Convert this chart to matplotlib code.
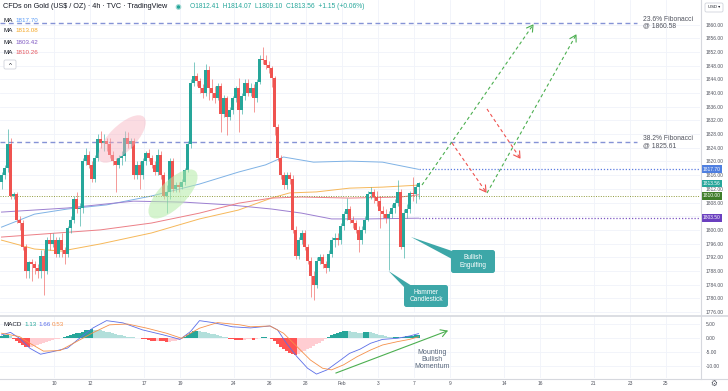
import numpy as np
import matplotlib
matplotlib.use("Agg")
import matplotlib.pyplot as plt
import matplotlib.transforms as mtransforms
from matplotlib.patches import Ellipse, FancyBboxPatch, Polygon, Circle

plt.rcParams['font.family'] = ['Liberation Sans', 'DejaVu Sans']

# ---------------- data ----------------
opens = [1814, 1816, 1818, 1825, 1810, 1810.5, 1803, 1802, 1795, 1788,
         1790.5, 1790, 1789, 1788, 1792.5, 1788, 1797, 1796, 1797, 1793,
         1797, 1794, 1793, 1800.5, 1803, 1809, 1806, 1806.5, 1820, 1822,
         1819, 1815, 1821, 1826.5, 1825.5, 1826, 1825, 1822, 1820, 1819,
         1821, 1821.5, 1827, 1825, 1826, 1816, 1819, 1816, 1820, 1822.5,
         1821, 1819, 1817, 1822, 1816, 1810, 1811, 1820, 1812, 1813,
         1812.5, 1814, 1817.5, 1825, 1843, 1845, 1843.5, 1841.5, 1840, 1846.7,
         1841.5, 1840, 1838.5, 1842, 1834, 1838.5, 1833, 1835, 1838.5, 1841.5,
         1835, 1839, 1843, 1840, 1841.5, 1838.5, 1843.3, 1850, 1849.7, 1848.2,
         1847.2, 1844.3, 1830.2, 1821, 1816, 1813, 1816, 1815, 1800, 1792.5,
         1797, 1799, 1795, 1791, 1786.5, 1784, 1791, 1792, 1790, 1789,
         1793, 1797, 1797.5, 1797, 1801, 1804.5, 1806, 1803, 1802, 1800,
         1797, 1800, 1803, 1810.5, 1811, 1809.5, 1808.5, 1805.5, 1804.5, 1803.5,
         1804.5, 1806.5, 1808, 1811, 1795, 1805, 1806, 1810.8, 1810.5, 1812.41]
highs = [1817, 1819, 1829.5, 1827, 1811, 1811, 1804, 1803, 1796, 1791,
         1791.5, 1791, 1790, 1794, 1794, 1798, 1799, 1799, 1798, 1798,
         1799, 1795, 1801, 1804, 1810, 1811, 1808, 1821, 1824, 1823,
         1820, 1822, 1828, 1829, 1828, 1827, 1827, 1823, 1821, 1822,
         1823, 1829, 1828.5, 1827, 1827, 1820, 1820, 1821, 1823, 1823.5,
         1822, 1820, 1823.5, 1823, 1817, 1813, 1821, 1821, 1814, 1814,
         1815, 1818, 1826, 1844, 1849, 1846, 1844.5, 1842.5, 1848.5, 1848,
         1844, 1842, 1843, 1843, 1839.5, 1839, 1836, 1839, 1842, 1844.5,
         1840, 1844, 1844, 1843, 1842.5, 1844, 1851, 1853.5, 1851.1, 1849.5,
         1848, 1845, 1831, 1822, 1817, 1817, 1817, 1816, 1801, 1798,
         1800, 1800, 1796, 1792, 1788, 1792, 1793, 1793, 1791, 1794,
         1798, 1799, 1799, 1802, 1805.5, 1809.3, 1807, 1804, 1803, 1801,
         1801, 1804, 1811.5, 1812.5, 1812, 1811.5, 1810, 1807, 1806, 1805.5,
         1807.5, 1809, 1814.5, 1812, 1806, 1807.5, 1811.5, 1815.5, 1813.5, 1814.07]
lows = [1812, 1815, 1817, 1809, 1809, 1802, 1800, 1794, 1786, 1786,
        1785, 1787, 1786, 1786, 1781, 1787, 1794, 1795, 1792, 1792,
        1792, 1790, 1792, 1799, 1802, 1805, 1801, 1805, 1819, 1818,
        1814, 1814, 1820, 1824, 1823, 1823, 1821, 1819, 1811, 1818,
        1819, 1820, 1824, 1824, 1815, 1815, 1812, 1815, 1819, 1820,
        1818, 1816, 1816, 1815, 1809, 1805, 1809, 1811, 1811, 1811,
        1812, 1813, 1817, 1824, 1842, 1842, 1840, 1838.5, 1839, 1838,
        1838, 1837, 1838, 1828.6, 1833, 1827.7, 1832, 1834, 1837.5, 1828.6,
        1834, 1838, 1839, 1839, 1834.5, 1837.5, 1842.5, 1848.5, 1847, 1846,
        1841.8, 1827.7, 1820, 1815, 1812, 1812, 1813.5, 1799, 1791.5, 1791.5,
        1796, 1794, 1790, 1780.4, 1779.5, 1783, 1790, 1789, 1787.5, 1788,
        1792, 1795, 1795.5, 1796, 1800, 1803, 1802, 1800.5, 1799, 1793.5,
        1796, 1799, 1802.5, 1809, 1808, 1807, 1800.5, 1803.5, 1802, 1788.2,
        1803.5, 1805, 1807, 1794.5, 1791.8, 1803.5, 1805, 1808.5, 1808, 1809.10]
closes = [1816, 1818, 1825, 1810, 1810.5, 1803, 1802, 1795, 1788, 1790.5,
          1790, 1789, 1788, 1792.5, 1788, 1797, 1796, 1797, 1793, 1797,
          1794, 1793, 1800.5, 1803, 1809, 1806, 1806.5, 1820, 1822, 1819,
          1815, 1821, 1826.5, 1825.5, 1826, 1825, 1822, 1820, 1819, 1821,
          1821.5, 1827, 1825, 1826, 1816, 1819, 1816, 1820, 1822.5, 1821,
          1819, 1817, 1822, 1816, 1810, 1811, 1820, 1812, 1813, 1812.5,
          1814, 1817.5, 1825, 1843, 1845, 1843.5, 1841.5, 1840, 1846.7, 1841.5,
          1840, 1838.5, 1842, 1834, 1838.5, 1833, 1835, 1838.5, 1841.5, 1835,
          1839, 1843, 1840, 1841.5, 1838.5, 1843.3, 1850, 1849.7, 1848.2, 1847.2,
          1844.3, 1830.2, 1821, 1816, 1813, 1816, 1815, 1800, 1792.5, 1797,
          1799, 1795, 1791, 1786.5, 1784, 1791, 1792, 1790, 1789, 1793,
          1797, 1797.5, 1797, 1801, 1804.5, 1806, 1803, 1802, 1800, 1797,
          1800, 1803, 1810.5, 1811, 1809.5, 1808.5, 1805.5, 1804.5, 1803.5, 1804.5,
          1806.5, 1808, 1811, 1795, 1805, 1806, 1810.8, 1810.5, 1812.41, 1813.56]

# moving averages, sampled at bar positions
ma_blue_bar = [0, 11, 22, 35, 50, 66, 79, 88, 94, 104, 116, 127, 139]
ma_blue_val = [1800.8, 1804.6, 1806.1, 1807.3, 1809.9, 1813.4, 1816.9, 1819.0, 1821.3, 1819.8, 1820.1, 1819.8, 1817.70]
ma_orange_bar = [0, 11, 20, 33, 50, 66, 79, 90, 96, 105, 116, 127, 139]
ma_orange_val = [1797.0, 1794.4, 1793.8, 1795.9, 1799.1, 1803.2, 1805.8, 1809.3, 1810.8, 1811.1, 1812.2, 1812.5, 1813.08]
ma_purple_bar = [0, 22, 44, 61, 76, 90, 100, 110, 122, 139]
ma_purple_val = [1805.2, 1806.4, 1808.4, 1808.1, 1807.3, 1806.1, 1804.9, 1803.2, 1803.2, 1803.42]
ma_red_bar = [0, 33, 50, 66, 79, 90, 100, 116, 133, 139]
ma_red_val = [1797.9, 1800.0, 1802.0, 1804.9, 1807.8, 1809.3, 1809.6, 1809.3, 1809.6, 1810.26]

# MACD
macd_bar = [0, 3, 6, 9.5, 13, 17, 22, 26, 30.5, 35, 40.5, 47, 54, 59.5, 63, 66, 70.5, 77, 83,
            89.5, 92, 95, 98.5, 102, 105, 108.5, 113, 116, 119.5, 123, 127, 132, 136, 139]
macd_val = [1.2, 2.1, 0.0, -3.6, -5.7, -4.8, -3.5, 0.0, 3.7, 6.3, 5.5, 3.0, 1.2, -0.4, 2.4, 6.3, 5.6, 4.1, 3.7,
            4.4, 3.0, -1.8, -6.6, -10.7, -12.8, -11.3, -7.8, -5.4, -3.9, -1.8, -0.4, 0.0, 0.8, 1.66]
signal_bar = [0, 6, 9.5, 14, 19.5, 25, 30.5, 36, 42, 48.5, 55, 60, 66, 72, 79.5, 83,
              89.5, 94, 98.5, 103, 107, 110, 114, 118.5, 123, 127, 132, 136, 139]
signal_val = [1.8, 0.6, -1.8, -4.6, -4.4, -1.2, 2.0, 4.8, 5.1, 3.6, 1.8, 0.0, 3.6, 5.6, 4.8, 4.1,
              4.4, 1.8, -3.0, -7.8, -10.7, -11.3, -9.5, -6.6, -4.2, -2.4, -1.2, -0.4, 0.53]
hist_val = [0.8, 1.0, 1.2, 0.8, -0.3, -1.0, -1.8, -2.5, -3.0, -3.2,
            -3.0, -2.6, -2.3, -2.0, -1.7, -1.3, -1.0, -0.6, -0.3, -0.1,
            0.2, 0.4, 0.7, 1.0, 1.4, 1.8, 2.0, 2.4, 2.8, 3.1,
            3.3, 3.1, 3.0, 2.8, 2.6, 2.4, 2.1, 1.8, 1.5, 1.2,
            1.0, 0.8, 0.6, 0.4, 0.3, 0.1, 0.0, -0.2, -0.3, -0.5,
            -0.9, -1.0, -0.8, -0.9, -1.1, -1.4, -1.2, -1.0, -0.8, -0.5,
            -0.2, 0.5, 1.2, 2.0, 2.5, 2.7, 2.6, 2.4, 2.3, 2.0,
            1.7, 1.4, 1.1, 0.8, 0.5, 0.3, -0.2, -0.4, -0.5, -0.6,
            -0.7, -0.5, -0.4, -0.3, -0.5, -0.3, 0.1, 0.3, 0.3, 0.1,
            -0.2, -1.0, -2.0, -3.0, -4.0, -4.5, -5.2, -5.8, -6.0, -5.5,
            -5.0, -4.5, -4.0, -3.4, -2.8, -2.2, -1.6, -1.0, -0.4, 0.3,
            1.0, 1.5, 2.0, 2.4, 2.7, 2.7, 2.5, 2.3, 2.2, 2.0,
            1.9, 2.1, 2.3, 2.2, 1.9, 1.6, 1.3, 1.0, 0.7, 0.5,
            0.3, 0.4, 0.6, 0.4, 0.6, 0.7, 0.8, 0.9, 1.0, 1.13]

price_ticks = [p for p in range(1776, 1861, 4) if p != 1804]
macd_ticks = [5, 0, -5, -10]
day_labels = ["10", "12", "17", "19", "24", "26", "28", "Feb", "3", "7", "9", "14", "16", "21", "23", "25"]
day_index = [3, 5, 8, 10, 13, 15, 17, 19, 21, 23, 25, 28, 30, 33, 35, 37]
bars_per_day = 6

fib_levels = [1860.58, 1825.61]
fib_names = ["23.6% Fibonacci", "38.2% Fibonacci"]
support_level = 1810.00
tag_values = [1817.70, 1813.56, 1810.00, 1803.50]
ma_legend = ["1817.70", "1813.08", "1803.42", "1810.26"]
ohlc_text = "O1812.41  H1814.07  L1809.10  C1813.56  +1.15 (+0.06%)"

# ---------------- styling ----------------
UP, DN = '#26a69a', '#ef5350'
C_BLUE, C_ORANGE, C_PURPLE, C_RED = '#7fb2e5', '#f6b85a', '#9c7fd0', '#ec7f86'
GRID = '#f0f3fa'
W, H = 728, 391

fig = plt.figure(figsize=(W / 100, H / 100), dpi=100)
fig.patch.set_facecolor('white')
PX = mtransforms.Affine2D().scale(1 / W, -1 / H).translate(0, 1) + fig.transFigure

ax = fig.add_axes([0, 1 - 313 / H, 700 / W, 313 / H])
axm = fig.add_axes([0, 1 - 378 / H, 700 / W, 62 / H])
XMIN, XMAX = -0.5, 232.83
for a in (ax, axm):
    a.set_xlim(XMIN, XMAX)
    a.set_facecolor('white')
    for s in a.spines.values():
        s.set_visible(False)
    for d in day_index:
        a.axvline(d * bars_per_day - 0.5, color=GRID, lw=0.6, zorder=0)

ax.set_ylim(1775.7, 1867.2)
axm.set_ylim(-14.2, 7.96)

# price grid + ticks
for p in range(1776, 1861, 4):
    ax.axhline(p, color=GRID, lw=0.6, zorder=0)
ax.yaxis.tick_right()
ax.set_yticks(price_ticks)
ax.set_yticklabels([f"{p:.2f}" for p in price_ticks])
ax.tick_params(axis='y', length=0, pad=4.0, labelsize=3.5, labelcolor='#50535e')
ax.set_xticks([])

for m in macd_ticks:
    axm.axhline(m, color=GRID, lw=0.6, zorder=0)
axm.yaxis.tick_right()
axm.set_yticks(macd_ticks)
axm.set_yticklabels([f"{m:.2f}" for m in macd_ticks])
axm.tick_params(axis='y', length=0, pad=4.0, labelsize=3.5, labelcolor='#50535e')
axm.set_xticks([d * bars_per_day - 0.5 for d in day_index])
axm.set_xticklabels(day_labels)
axm.tick_params(axis='x', length=0, pad=2.2, labelsize=3.5, labelcolor='#50535e')

# candles
o, h, l, c = map(np.array, (opens, highs, lows, closes))
xb = np.arange(len(o))
cols = np.where(c >= o, UP, DN)
ax.vlines(xb, l, h, colors=cols, lw=0.55, alpha=0.75, zorder=3)
ax.bar(xb, np.maximum(np.abs(c - o), 0.3), bottom=np.minimum(o, c), width=0.68,
       color=cols, lw=0, zorder=4)

# moving averages
ax.plot(ma_blue_bar, ma_blue_val, color=C_BLUE, lw=0.7, zorder=2)
ax.plot(ma_orange_bar, ma_orange_val, color=C_ORANGE, lw=0.7, zorder=2)
ax.plot(ma_purple_bar, ma_purple_val, color=C_PURPLE, lw=0.7, zorder=2)
ax.plot(ma_red_bar, ma_red_val, color=C_RED, lw=0.7, zorder=2)

# horizontal levels
fib_end = (637 - 1.5) / 3
for f in fib_levels:
    ax.plot([XMIN, fib_end], [f, f], color='#8593d6', lw=1.0, ls=(0, (3.5, 2.5)), zorder=2)
ax.axhline(support_level, color='#8f9a3c', lw=0.7, ls=(0, (1, 1.5)), zorder=2)
last = len(o) - 1
ax.plot([last, XMAX], [ma_blue_val[-1]] * 2, color='#5b7be0', lw=0.9, ls=(0, (1, 1.5)), zorder=2)
ax.plot([last, XMAX], [tag_values[3]] * 2, color='#7e57c2', lw=0.9, ls=(0, (1, 1.5)), zorder=2)

# fib labels
for f, name in zip(fib_levels, fib_names):
    ax.annotate(f"{name}\n@ {f:.2f}", xy=(fib_end, f), xytext=(4, 0), textcoords='offset points',
                fontsize=4.9, color='#50535e', va='center', ha='left', linespacing=1.0,
                annotation_clip=False)

# price tags
blend = mtransforms.blended_transform_factory(ax.transAxes, ax.transData)
tag_cols = ['#4f7fe0', '#26a69a', '#3f7d2a', '#6a3fbf']
for v, col in zip(tag_values, tag_cols):
    ax.text(1.004, v, f"{v:.2f}", transform=blend, fontsize=3.5, color='white', va='center', ha='left',
            bbox=dict(boxstyle='square,pad=0.3', fc=col, ec='none'), clip_on=False, zorder=10)

# MACD
hv = np.array(hist_val)
prev = np.r_[hv[0], hv[:-1]]
hcols = np.where(hv >= 0, np.where(hv >= prev, '#26a69a', '#b2dfdb'),
                 np.where(hv < prev, '#ff5252', '#ffcdd2'))
axm.bar(np.arange(len(hv)), hv, width=0.7, color=hcols, lw=0, zorder=2)
axm.plot(macd_bar, macd_val, color='#5b6ee8', lw=0.6, zorder=3)
axm.plot(signal_bar, signal_val, color='#f5904a', lw=0.6, zorder=3)

# panel separators
for yy, lw in ((315.5, 1.2), (378.5, 0.8)):
    fig.add_artist(plt.Line2D([0, W], [yy, yy], transform=PX, color='#d6d8de', lw=lw))
fig.add_artist(plt.Line2D([700.5, 700.5], [0, 378.5], transform=PX, color='#d6d8de', lw=0.8))

# ellipses
fig.add_artist(Ellipse((122, 139), 62, 26, angle=-45, transform=PX, fc='#f7b3bf', ec='none', alpha=0.45, zorder=1))
fig.add_artist(Ellipse((173, 194), 64, 27, angle=-45, transform=PX, fc='#b4eba6', ec='none', alpha=0.55, zorder=1))

# header text
fig.text(3, 7, "CFDs on Gold (US$ / OZ) · 4h · TVC · TradingView", transform=PX, fontsize=5.2,
         color='#131722', va='center', ha='left')
fig.add_artist(Circle((178.5, 7), 2.3, transform=PX, fc='#26a69a', ec='#a8dcd6', lw=0.8))
fig.text(190, 7, ohlc_text, transform=PX, fontsize=4.8, color='#26a69a', va='center', ha='left')
ma_cols_txt = ['#5b9cf6', '#f5a623', '#7e57c2', '#e5545d']
for i, (val, col) in enumerate(zip(ma_legend, ma_cols_txt)):
    y = 20 + i * 11
    fig.text(3, y, "MA", transform=PX, fontsize=4.5, color='#131722', va='center')
    fig.text(15, y, val, transform=PX, fontsize=4.5, color=col, va='center')
fig.add_artist(FancyBboxPatch((4, 60), 12, 9, boxstyle='round,pad=0,rounding_size=1.5', transform=PX,
                              fc='white', ec='#d1d4dc', lw=0.6))
fig.text(10, 65.5, "^", transform=PX, fontsize=4.5, color='#131722', ha='center', va='center')
fig.add_artist(FancyBboxPatch((705, 3), 18, 9, boxstyle='round,pad=0,rounding_size=1.5', transform=PX,
                              fc='white', ec='#d1d4dc', lw=0.6))
fig.text(714, 7.5, "USD ▾", transform=PX, fontsize=3.0, color='#131722', ha='center', va='center')
fig.text(714, 384.5, "⚙", transform=PX, fontsize=5.5, color='#50535e', ha='center', va='center')

# MACD legend
fig.text(3, 324, "MACD", transform=PX, fontsize=4.5, color='#131722', va='center')
fig.text(24, 324, "1.13", transform=PX, fontsize=4.5, color='#26a69a', va='center')
fig.text(38, 324, "1.66", transform=PX, fontsize=4.5, color='#5b6ee8', va='center')
fig.text(52, 324, "0.53", transform=PX, fontsize=4.5, color='#f5904a', va='center')

# projection drawings
def arrow_px(p0, p1, col, dashed=True):
    ls = (0, (3, 2.5)) if dashed else '-'
    fig.add_artist(plt.Line2D([p0[0], p1[0]], [p0[1], p1[1]], transform=PX, color=col, lw=0.8, ls=ls))
    v = np.array(p1, float) - np.array(p0, float)
    v /= np.hypot(*v)
    n = np.array([-v[1], v[0]])
    a = np.array(p1) - 6 * v + 3.5 * n
    b = np.array(p1) - 6 * v - 3.5 * n
    fig.add_artist(plt.Line2D([a[0], p1[0], b[0]], [a[1], p1[1], b[1]], transform=PX, color=col, lw=0.8))

arrow_px((422, 185), (533, 25), '#4caf50')
arrow_px((487, 193), (576, 35), '#4caf50')
arrow_px((452, 143), (486, 192), '#ef5350')
arrow_px((487, 109), (520, 158), '#ef5350')

# callouts
BOXC = '#3da7a8'
fig.add_artist(Polygon([(411, 237), (452, 251), (452, 259)], closed=True, transform=PX, fc=BOXC, ec='none'))
fig.add_artist(FancyBboxPatch((451, 250), 44, 23, boxstyle='round,pad=0,rounding_size=2.5', transform=PX,
                              fc=BOXC, ec='none'))
fig.text(473, 261.5, "Bullish\nEngulfing", transform=PX, fontsize=4.7, color='white', ha='center',
         va='center', linespacing=1.05)
fig.add_artist(Polygon([(388.5, 271), (404, 287), (412, 286)], closed=True, transform=PX, fc=BOXC, ec='none'))
fig.add_artist(FancyBboxPatch((404, 285), 44, 22, boxstyle='round,pad=0,rounding_size=2.5', transform=PX,
                              fc=BOXC, ec='none'))
fig.text(426, 296, "Hammer\nCandlestick", transform=PX, fontsize=4.7, color='white', ha='center',
         va='center', linespacing=1.05)

# MACD momentum arrow + text
arrow_px((336, 373), (447, 331), '#4caf50', dashed=False)
fig.text(432, 359.5, "Mounting\nBullish\nMomentum", transform=PX, fontsize=5.0, color='#56657a',
         ha='center', va='center', linespacing=1.0)

fig.savefig("out.png", dpi=100, facecolor='white')
